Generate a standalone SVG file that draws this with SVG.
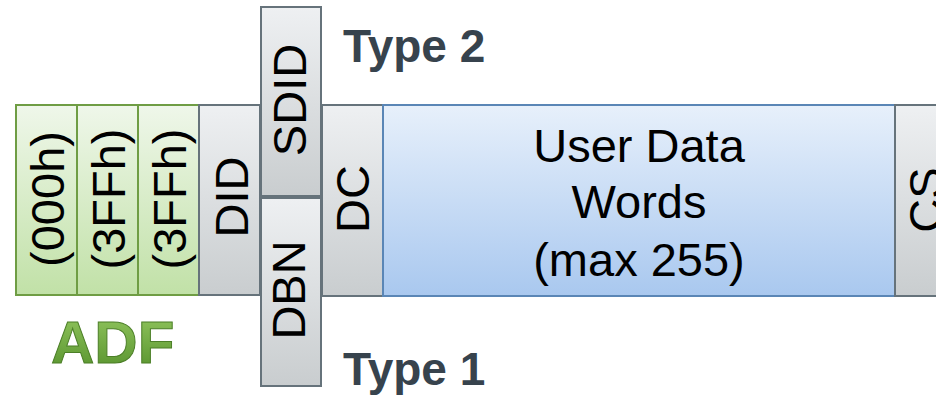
<svg xmlns="http://www.w3.org/2000/svg" width="936" height="397" viewBox="0 0 936 397">
<defs>
<linearGradient id="gGreen" x1="0" y1="0" x2="0" y2="1"><stop offset="0" stop-color="#eff7ea"/><stop offset="1" stop-color="#c1e1a7"/></linearGradient>
<linearGradient id="gGray" x1="0" y1="0" x2="0" y2="1"><stop offset="0" stop-color="#eef0f2"/><stop offset="1" stop-color="#c9cdcf"/></linearGradient>
<linearGradient id="gBlue" x1="0" y1="0" x2="0" y2="1"><stop offset="0" stop-color="#e7f0fb"/><stop offset="1" stop-color="#a9c8ef"/></linearGradient>
<linearGradient id="gAdf" x1="0" y1="0" x2="0" y2="1"><stop offset="0" stop-color="#94c860"/><stop offset="1" stop-color="#538f2a"/></linearGradient>
</defs>
<style>
.green{fill:url(#gGreen);stroke:#6f9d44;stroke-width:2}
.gray{fill:url(#gGray);stroke:#66737b;stroke-width:2}
.blue{fill:url(#gBlue);stroke:#5a86b6;stroke-width:2}
.lbl{font-family:"Liberation Sans",Arial,sans-serif;font-size:47px;fill:#000;text-anchor:middle}
.type{font-family:"Liberation Sans",Arial,sans-serif;font-size:46px;font-weight:bold;fill:#37434d}
.adf{font-family:"Liberation Sans",Arial,sans-serif;font-size:60px;font-weight:bold;fill:url(#gAdf);stroke:#4c7f28;stroke-width:1}
</style>
<rect width="936" height="397" fill="#fff"/>
<g id="adf1"><rect class="green" x="16" y="105" width="61" height="190"/><text class="lbl" transform="translate(64,199) rotate(-90)">(000h)</text></g>
<g id="adf2"><rect class="green" x="77" y="105" width="61" height="190"/><text class="lbl" transform="translate(125,199) rotate(-90)">(3FFh)</text></g>
<g id="adf3"><rect class="green" x="138" y="105" width="61" height="190"/><text class="lbl" transform="translate(186,199) rotate(-90)">(3FFh)</text></g>
<g id="did"><rect class="gray" x="199" y="105" width="61" height="190"/><text class="lbl" transform="translate(248,197) rotate(-90)">DID</text></g>
<g id="sdid"><rect class="gray" x="261" y="7" width="60" height="189"/><text class="lbl" transform="translate(306,100) rotate(-90)">SDID</text></g>
<g id="dbn"><rect class="gray" x="261" y="198" width="60" height="188"/><text class="lbl" transform="translate(305,290) rotate(-90)">DBN</text></g>
<g id="dc"><rect class="gray" x="322" y="105" width="61" height="191"/><text class="lbl" transform="translate(369,199) rotate(-90)">DC</text></g>
<g id="udw"><rect class="blue" x="383" y="105" width="512" height="191"/>
<text class="lbl" x="639" y="162">User Data</text>
<text class="lbl" x="639" y="218">Words</text>
<text class="lbl" x="639" y="276">(max 255)</text></g>
<g id="cs"><rect class="gray" x="895" y="105" width="61" height="191"/><text class="lbl" transform="translate(942,200) rotate(-90)">CS</text></g>
<g id="type2"><text class="type" x="343" y="62">Type 2</text></g>
<g id="type1"><text class="type" x="343" y="385">Type 1</text></g>
<g id="adfLabel"><text class="adf" x="51" y="363">ADF</text></g>
<g id="connectors"/>
</svg>
